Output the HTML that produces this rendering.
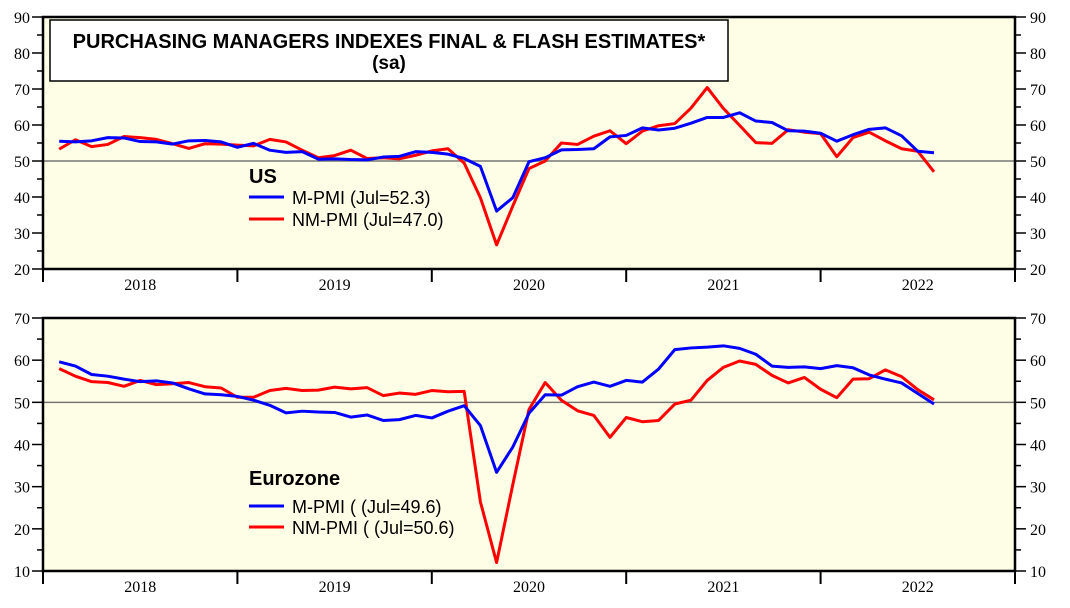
<!DOCTYPE html>
<html><head><meta charset="utf-8"><style>
body{margin:0;background:#fff;}
svg text{font-family:"Liberation Serif",serif;}
.s{font-family:"Liberation Sans",sans-serif;}
</style></head><body>
<svg id="c" width="1070" height="603" xmlns="http://www.w3.org/2000/svg"></svg>
<script>
const years=["2018","2019","2020","2021","2022"];
const usM=[55.5,55.3,55.6,56.5,56.4,55.4,55.3,54.7,55.6,55.7,55.3,53.8,54.9,53.0,52.4,52.6,50.5,50.6,50.4,50.3,51.1,51.3,52.6,52.4,51.9,50.7,48.5,36.1,39.8,49.8,50.9,53.1,53.2,53.4,56.7,57.1,59.2,58.6,59.1,60.5,62.1,62.1,63.4,61.1,60.7,58.4,58.3,57.7,55.5,57.3,58.8,59.2,57.0,52.7,52.3];
const usNM=[53.3,55.9,54.0,54.6,56.8,56.5,56.0,54.8,53.5,54.8,54.7,54.4,54.2,56.0,55.3,53.0,50.9,51.5,53.0,50.7,50.9,50.6,51.6,52.8,53.4,49.4,39.8,26.7,37.5,47.9,50.0,55.0,54.6,56.9,58.4,54.8,58.3,59.8,60.4,64.7,70.4,64.6,59.9,55.1,54.9,58.7,58.0,57.6,51.2,56.5,58.0,55.6,53.4,52.7,47.0];
const ezM=[59.6,58.6,56.6,56.2,55.5,54.9,55.1,54.6,53.2,52.0,51.8,51.4,50.5,49.3,47.5,47.9,47.7,47.6,46.5,47.0,45.7,45.9,46.9,46.3,47.9,49.2,44.5,33.4,39.4,47.4,51.8,51.7,53.7,54.8,53.8,55.2,54.8,57.9,62.5,62.9,63.1,63.4,62.8,61.4,58.6,58.3,58.4,58.0,58.7,58.2,56.5,55.5,54.6,52.1,49.6];
const ezNM=[58.0,56.2,54.9,54.7,53.8,55.2,54.2,54.4,54.7,53.7,53.4,51.2,51.2,52.8,53.3,52.8,52.9,53.6,53.2,53.5,51.6,52.2,51.9,52.8,52.5,52.6,26.4,12.0,30.5,48.3,54.7,50.5,48.0,46.9,41.7,46.4,45.4,45.7,49.6,50.5,55.2,58.3,59.8,59.0,56.4,54.6,55.9,53.1,51.1,55.5,55.6,57.7,56.1,53.0,50.6];
const usTicks=[20,30,40,50,60,70,80,90];
const ezTicks=[10,20,30,40,50,60,70];

const svg=document.getElementById('c');
const NS='http://www.w3.org/2000/svg';
function mk(t,a,p){const e=document.createElementNS(NS,t);for(const k in a)e.setAttribute(k,a[k]);(p||svg).appendChild(e);return e;}
const L=43,R=1015,MW=(R-L)/60;
const xM=i=>L+(i+1)*MW;

function panel(name,top,bot,ymin,ymax,ticks,m,nm,title,leg){
  const g=mk('g',{});
  
  
  const y=v=>bot-(v-ymin)/(ymax-ymin)*(bot-top);
  const bg=mk('rect',{x:L,y:top,width:R-L,height:bot-top,fill:'#fefee6'},g);
  
  
  const ref=mk('line',{x1:L,x2:R,y1:y(50),y2:y(50),stroke:'#777',"stroke-width":1.5},g);
  
  
  for(let v=ymin;v<=ymax;v+=5){
    const maj=ticks.includes(v);
    mk('line',{x1:L-(maj?11:6),x2:L,y1:y(v),y2:y(v),stroke:'#000',"stroke-width":1.5},g);
    mk('line',{x1:R,x2:R+(maj?11:6),y1:y(v),y2:y(v),stroke:'#000',"stroke-width":1.5},g);
  }
  ticks.forEach(v=>{
    const t1=mk('text',{x:30,y:y(v)+6,"text-anchor":"end","font-size":16},g);t1.textContent=v;
    
    
    const t2=mk('text',{x:1030,y:y(v)+6,"font-size":16},g);t2.textContent=v;
    
    
  });
  for(let k=0;k<=5;k++){mk('line',{x1:L+k*12*MW,x2:L+k*12*MW,y1:bot,y2:bot+13,stroke:'#000',"stroke-width":2},g);}
  years.forEach((yr,k)=>{
    const t=mk('text',{x:L+(k+0.5)*12*MW,y:bot+21,"text-anchor":"middle","font-size":16},g);t.textContent=yr;
    
    
  });
  const fr=mk('rect',{x:L,y:top,width:R-L,height:bot-top,fill:'none',stroke:'#000',"stroke-width":2.5},g);
  
  
  const mkLine=(arr,col,nm2)=>{
    const p=mk('polyline',{points:arr.map((v,i)=>xM(i)+','+y(v)).join(' '),fill:'none',stroke:col,"stroke-width":3,"stroke-linejoin":"round"},g);
    
    
  };
  mkLine(nm,'#ff0000',name+'-nm-pmi-line');
  mkLine(m,'#0000ff',name+'-m-pmi-line');
  const lt=mk('text',{x:249,y:leg[0],"font-size":20,"font-weight":"bold",class:"s"},g);lt.textContent=title;
  
  
  [[leg[1],'#0000ff',leg[3]],[leg[2],'#ff0000',leg[4]]].forEach(([yy,c,txt])=>{
    mk('line',{x1:249,x2:284,y1:yy,y2:yy,stroke:c,"stroke-width":3},g);
    const t=mk('text',{x:292,y:yy+7,"font-size":18,class:"s"},g);t.textContent=txt;
    
    
  });
}
panel('us',17,269,20,90,usTicks,usM,usNM,'US',[183,197,219,'M-PMI (Jul=52.3)','NM-PMI (Jul=47.0)']);
panel('eurozone',318,571,10,70,ezTicks,ezM,ezNM,'Eurozone',[485,506,527,'M-PMI ( (Jul=49.6)','NM-PMI ( (Jul=50.6)']);
const tb=mk('rect',{x:50,y:20,width:678,height:61,fill:'#fff',stroke:'#000',"stroke-width":1.5});


const t1=mk('text',{x:389,y:48,"text-anchor":"middle","font-size":20,"font-weight":"bold",class:"s"});t1.textContent='PURCHASING MANAGERS INDEXES FINAL & FLASH ESTIMATES*';


const t2=mk('text',{x:389,y:69,"text-anchor":"middle","font-size":19,"font-weight":"bold",class:"s"});t2.textContent='(sa)';


</script>
</body></html>
